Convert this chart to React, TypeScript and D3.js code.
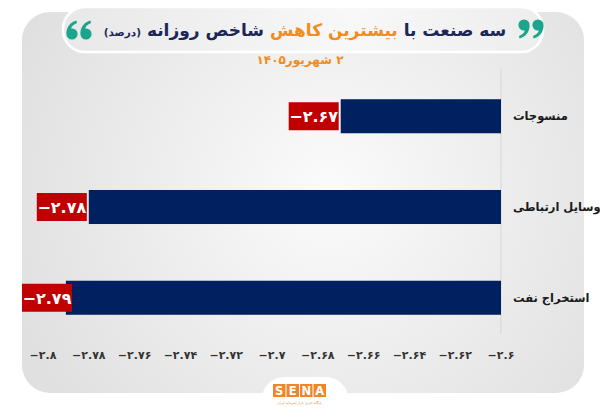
import { useEffect, useRef } from "react";
import * as d3 from "d3";

const categories = ["منسوجات", "وسایل ارتباطی", "استخراج نفت"];
const values = [-2.67, -2.78, -2.79];
const axisDomain = [-2.8, -2.6];

const titleParts = [
  { text: "سه صنعت با ", color: "#1b2758", size: 17 },
  { text: "بیشترین کاهش ", color: "#f28c1c", size: 17 },
  { text: "شاخص روزانه ", color: "#1b2758", size: 17 },
  { text: "(درصد)", color: "#1b2758", size: 10.5 },
];
const subtitle = "۲ شهریور۱۴۰۵";

const faDigits = "۰۱۲۳۴۵۶۷۸۹";
const toFa = (v: number) =>
  "−" + String(Math.abs(+v.toFixed(2))).replace(/\d/g, (d) => faDigits[+d]);

const FONT = "'DejaVu Sans', sans-serif";

// one comma-shaped quote blob, drawn around (0,0) as a "9"
const commaPath = (() => {
  const p = d3.path();
  p.arc(0, 0, 5.6, 0, Math.PI * 2);
  p.moveTo(5.6, 0);
  p.bezierCurveTo(5.8, 7, 1.5, 12, -4.5, 13.5);
  p.lineTo(-5, 11);
  p.bezierCurveTo(-1.5, 9.5, 0.5, 7.5, 0.8, 5.5);
  p.lineTo(0, 0);
  p.closePath();
  return p.toString();
})();

const App: React.FC = () => {
  const svgRef = useRef<SVGSVGElement | null>(null);

  useEffect(() => {
    if (!svgRef.current) return;
    const width = 600;
    const height = 415;

    const svg = d3.select(svgRef.current);
    svg.selectAll("*").remove();
    svg.attr("width", width).attr("height", height);

    const defs = svg.append("defs");
    const bg = defs
      .append("radialGradient")
      .attr("id", "cardBg")
      .attr("gradientUnits", "userSpaceOnUse")
      .attr("cx", 330)
      .attr("cy", 190)
      .attr("r", 340);
    bg.append("stop").attr("offset", "0%").attr("stop-color", "#fbfbfb");
    bg.append("stop").attr("offset", "100%").attr("stop-color", "#e0e0e0");

    const pillBg = defs
      .append("linearGradient")
      .attr("id", "pillBg")
      .attr("x1", 0)
      .attr("x2", 1);
    pillBg.append("stop").attr("offset", "0%").attr("stop-color", "#e8e8e8");
    pillBg.append("stop").attr("offset", "60%").attr("stop-color", "#f8f8f8");
    pillBg.append("stop").attr("offset", "100%").attr("stop-color", "#ededed");

    svg.append("rect").attr("width", width).attr("height", height).attr("fill", "#ffffff");

    // card
    svg
      .append("rect")
      .attr("x", 22)
      .attr("y", 12)
      .attr("width", 562)
      .attr("height", 381)
      .attr("rx", 28)
      .attr("fill", "url(#cardBg)");

    // bottom tab for logo
    svg
      .append("rect")
      .attr("x", 262)
      .attr("y", 377)
      .attr("width", 86)
      .attr("height", 60)
      .attr("rx", 22)
      .attr("fill", "#ffffff");

    // title pill
    svg
      .append("rect")
      .attr("x", 63)
      .attr("y", 7)
      .attr("width", 480)
      .attr("height", 45)
      .attr("rx", 22)
      .attr("fill", "url(#pillBg)")
      .attr("stroke", "#ffffff")
      .attr("stroke-width", 2.5);

    const title = svg
      .append("text")
      .attr("x", 305)
      .attr("y", 36)
      .attr("direction", "rtl")
      .attr("text-anchor", "middle")
      .attr("font-family", FONT)
      .attr("font-weight", "bold");
    titleParts.forEach((p) => {
      title
        .append("tspan")
        .attr("fill", p.color)
        .attr("font-size", p.size)
        .text(p.text);
    });

    // quote marks: "99" on the right, "66" on the left
    const quotes = svg.append("g").attr("fill", "#1ba58c");
    [
      { x: 524, y: 25, r: 0 },
      { x: 538, y: 25, r: 0 },
      { x: 72, y: 34, r: 180 },
      { x: 86, y: 34, r: 180 },
    ].forEach((q) => {
      quotes
        .append("path")
        .attr("d", commaPath)
        .attr("transform", `translate(${q.x},${q.y}) rotate(${q.r})`);
    });

    svg
      .append("text")
      .attr("x", 300)
      .attr("y", 64)
      .attr("direction", "rtl")
      .attr("text-anchor", "middle")
      .attr("font-family", FONT)
      .attr("font-weight", "bold")
      .attr("font-size", 12)
      .attr("fill", "#f28c1c")
      .text(subtitle);

    // scales
    const x = d3.scaleLinear().domain(axisDomain).range([43, 501]);
    const y = d3
      .scaleBand<string>()
      .domain(categories)
      .range([72, 342])
      .paddingInner(0.625)
      .paddingOuter(0.3);

    svg
      .append("line")
      .attr("x1", x(-2.6))
      .attr("x2", x(-2.6))
      .attr("y1", 68)
      .attr("y2", 334)
      .attr("stroke", "#d6d6d6")
      .attr("stroke-width", 1);

    const rows = svg
      .selectAll(".row")
      .data(categories)
      .enter()
      .append("g")
      .attr("class", "row");

    rows
      .append("rect")
      .attr("x", (_, i) => x(values[i]))
      .attr("y", (d) => y(d)!)
      .attr("width", (_, i) => x(-2.6) - x(values[i]))
      .attr("height", y.bandwidth())
      .attr("fill", "#002060");

    const boxW = 50;
    const boxH = 28;
    const boxX = (i: number) => Math.max(x(values[i]) - 2 - boxW, 22);
    rows
      .append("rect")
      .attr("x", (_, i) => boxX(i))
      .attr("y", (d) => y(d)! + (y.bandwidth() - boxH) / 2)
      .attr("width", boxW)
      .attr("height", boxH)
      .attr("fill", "#c00000");

    rows
      .append("text")
      .attr("x", (_, i) => boxX(i) + boxW / 2)
      .attr("y", (d) => y(d)! + y.bandwidth() / 2 + 6)
      .attr("text-anchor", "middle")
      .attr("font-family", FONT)
      .attr("font-weight", "bold")
      .attr("font-size", 16)
      .attr("fill", "#ffffff")
      .text((_, i) => toFa(values[i]));

    rows
      .append("text")
      .attr("x", 513)
      .attr("y", (d) => y(d)! + y.bandwidth() / 2 + 4)
      .attr("text-anchor", "start")
      .attr("font-family", FONT)
      .attr("font-weight", "bold")
      .attr("font-size", 11.5)
      .attr("fill", "#1a1a1a")
      .text((d) => d);

    // x axis tick labels
    svg
      .selectAll(".tick")
      .data(x.ticks(10))
      .enter()
      .append("text")
      .attr("class", "tick")
      .attr("x", (d) => x(d))
      .attr("y", 359)
      .attr("text-anchor", "middle")
      .attr("font-family", FONT)
      .attr("font-weight", "bold")
      .attr("font-size", 11)
      .attr("fill", "#333333")
      .text((d) => toFa(d));

    // logo
    const letters = ["S", "E", "N", "A"];
    const logo = svg.append("g").attr("transform", "translate(273,384)");
    letters.forEach((l, i) => {
      logo
        .append("rect")
        .attr("x", i * 13.5)
        .attr("width", 12.5)
        .attr("height", 13)
        .attr("fill", "#f0862a");
      logo
        .append("text")
        .attr("x", i * 13.5 + 6.25)
        .attr("y", 11)
        .attr("text-anchor", "middle")
        .attr("font-family", FONT)
        .attr("font-weight", "bold")
        .attr("font-size", 11.5)
        .attr("fill", "#ffffff")
        .text(l);
    });
    logo
      .append("text")
      .attr("x", 26.5)
      .attr("y", 19.5)
      .attr("text-anchor", "middle")
      .attr("direction", "rtl")
      .attr("font-family", FONT)
      .attr("font-size", 3.5)
      .attr("fill", "#f0862a")
      .text("پایگاه خبری بازار سرمایه ایران");
  }, []);

  return (
    <svg
      ref={svgRef}
      style={{ position: "absolute", left: 0, top: 0, display: "block" }}
    ></svg>
  );
};

export default App;
